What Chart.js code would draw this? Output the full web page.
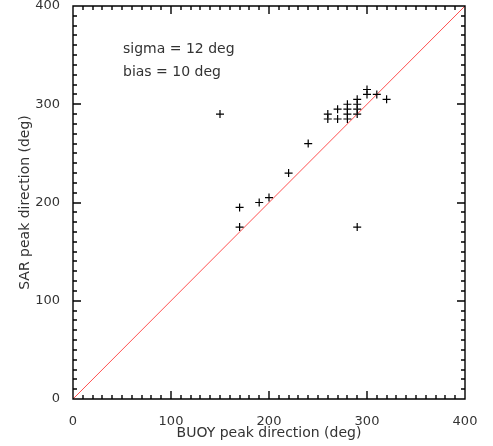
<!DOCTYPE html>
<html>
<head>
<meta charset="utf-8">
<script src="https://cdn.jsdelivr.net/npm/chart.js@4"></script>
<style>
  html, body { margin: 0; padding: 0; background: #fff; }
  canvas { display: block; }
</style>
</head>
<body>
<canvas id="chart-peak-direction" width="493" height="446"></canvas>
<script>
// Peak wave direction: buoy vs SAR
const buoyDir = [150, 170, 170, 190, 200, 220, 240, 260, 260, 270, 270, 280, 280, 280, 280,
                 290, 290, 290, 290, 300, 300, 310, 320, 290];
const sarDir  = [290, 195, 175, 200, 205, 230, 260, 290, 285, 295, 285, 300, 295, 290, 285,
                 305, 300, 295, 290, 315, 310, 310, 305, 175];
const axisTicks = [0, 100, 200, 300, 400];
const statLines = ['sigma = 12 deg', 'bias = 10 deg'];

const textColor = '#333';
const fontFamily = '"DejaVu Sans", sans-serif';

// IDL style box with inward ticks on all four sides
const boxTicks = {
  id: 'boxTicks',
  afterDatasetsDraw(chart) {
    const ctx = chart.ctx;
    const a = chart.chartArea;
    const xs = chart.scales.x;
    const ys = chart.scales.y;
    const L = Math.round(a.left), R = Math.round(a.right);
    const T = Math.round(a.top), B = Math.round(a.bottom);
    ctx.save();
    ctx.strokeStyle = '#000';
    ctx.lineWidth = 1.4;
    ctx.lineCap = 'butt';

    ctx.beginPath();
    ctx.rect(L, T, R - L, B - T);
    // major every 100, minor every 10
    for (let v = 0; v <= 400; v += 10) {
      const len = v % 100 === 0 ? 8 : 4;
      const px = Math.round(xs.getPixelForValue(v));
      ctx.moveTo(px, B);
      ctx.lineTo(px, B - len);
      ctx.moveTo(px, T);
      ctx.lineTo(px, T + len);
      const py = Math.round(ys.getPixelForValue(v));
      ctx.moveTo(L, py);
      ctx.lineTo(L + len, py);
      ctx.moveTo(R, py);
      ctx.lineTo(R - len, py);
    }
    ctx.stroke();

    // statistics text
    ctx.fillStyle = textColor;
    ctx.font = '14px ' + fontFamily;
    ctx.textBaseline = 'middle';
    ctx.textAlign = 'left';
    statLines.forEach((t, i) => ctx.fillText(t, 123, 49 + i * 23));
    ctx.restore();
  }
};

const axisOpts = (title) => ({
  type: 'linear',
  min: 0,
  max: 400,
  afterBuildTicks: (scale) => { scale.ticks = axisTicks.map(v => ({ value: v })); },
  grid: { display: false },
  border: { display: false },
  ticks: {
    color: textColor,
    font: { family: fontFamily, size: 13 },
    padding: 5
  },
  title: {
    display: true,
    text: title,
    color: textColor,
    font: { family: fontFamily, size: 14 }
  }
});

const xOpts = axisOpts('BUOY peak direction (deg)');
xOpts.ticks.padding = 7;
xOpts.title.padding = { top: 0, bottom: 4 };
xOpts.afterFit = (scale) => {
  scale.height = 47;
  scale.paddingLeft = 0;
  scale.paddingRight = 0;
};

const yOpts = axisOpts('SAR peak direction (deg)');
yOpts.title.padding = { top: 17, bottom: 0 };
yOpts.afterFit = (scale) => {
  scale.width = 73;
  scale.paddingTop = 0;
  scale.paddingBottom = 0;
};

new Chart(document.getElementById('chart-peak-direction'), {
  type: 'scatter',
  data: {
    datasets: [
      {
        label: 'SAR vs buoy',
        data: buoyDir.map((b, i) => ({ x: b, y: sarDir[i] })),
        pointStyle: 'cross',
        pointRadius: 4,
        pointBorderWidth: 1.2,
        borderColor: '#000',
        backgroundColor: '#000'
      },
      {
        type: 'line',
        label: '1:1',
        data: [{ x: 0, y: 0 }, { x: 400, y: 400 }],
        borderColor: 'rgb(255, 80, 80)',
        borderWidth: 1,
        pointRadius: 0,
        fill: false
      }
    ]
  },
  options: {
    responsive: false,
    animation: false,
    layout: { padding: { left: 0, right: 28, top: 6, bottom: 0 } },
    plugins: {
      legend: { display: false },
      tooltip: { enabled: false }
    },
    scales: { x: xOpts, y: yOpts }
  },
  plugins: [boxTicks]
});
</script>
</body>
</html>
